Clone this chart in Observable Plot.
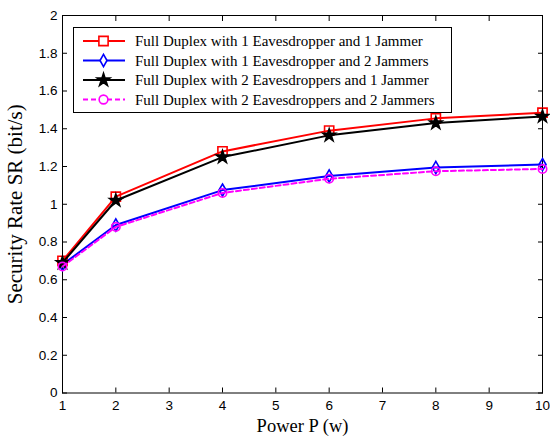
<!DOCTYPE html>
<html><head><meta charset="utf-8">
<script src="https://cdn.jsdelivr.net/npm/d3@7"></script>
<script src="https://cdn.jsdelivr.net/npm/@observablehq/plot@0.6"></script>
<style>
body{margin:0;background:#fff}
#wrap{position:relative;width:550px;height:436px}
#wrap svg.plot{font-family:"Liberation Sans",Arial,sans-serif;font-size:13.5px}
g[aria-label="x-axis label"] text{font-family:"Liberation Serif","Times New Roman",serif;font-size:18.5px}
g[aria-label="y-axis label"] text{font-family:"Liberation Serif","Times New Roman",serif;font-size:21px}
#legend{position:absolute;left:73px;top:27px}
</style></head><body><div id="wrap"></div>
<script>
const power = [1, 2, 4, 6, 8, 10];
const seriesNames = [
  "Full Duplex with 1 Eavesdropper and 1 Jammer",
  "Full Duplex with 1 Eavesdropper and 2 Jammers",
  "Full Duplex with 2 Eavesdroppers and 1 Jammer",
  "Full Duplex with 2 Eavesdroppers and 2 Jammers"
];
const sr1E1J = [0.70, 1.04, 1.28, 1.39, 1.455, 1.485];
const sr1E2J = [0.68, 0.89, 1.075, 1.15, 1.195, 1.21];
const sr2E1J = [0.69, 1.02, 1.25, 1.365, 1.43, 1.465];
const sr2E2J = [0.67, 0.88, 1.06, 1.135, 1.175, 1.187];
const xTicks = [1, 2, 3, 4, 5, 6, 7, 8, 9, 10];
const yTicks = [0, 0.2, 0.4, 0.6, 0.8, 1, 1.2, 1.4, 1.6, 1.8, 2];

const colors = ["#ff0000", "#0000ff", "#000000", "#ff00ff"];
const symbols = ["square", "diamond", "star", "circle"];
const fills = ["none", "none", "#000000", "none"];
const radii = [5.2, 3.7, 3.9, 4.2];
const dashes = [null, null, null, "5,3"];
const allValues = [sr1E1J, sr1E2J, sr2E1J, sr2E2J];

const data = [];
allValues.forEach((vals, i) => vals.forEach((v, j) => data.push({s: i, x: power[j], y: v})));

const marks = [];
allValues.forEach((vals, i) => {
  const d = data.filter(o => o.s === i);
  marks.push(Plot.line(d, {x: "x", y: "y", stroke: colors[i], strokeWidth: 2, strokeDasharray: dashes[i]}));
  marks.push(Plot.dot(d, {x: "x", y: "y", symbol: () => symbols[i], r: radii[i], stroke: colors[i], fill: fills[i], strokeWidth: 1.6}));
});

const chart = Plot.plot({
  width: 550, height: 436,
  marginLeft: 62, marginRight: 8, marginTop: 15, marginBottom: 43.5,
  x: {domain: [1, 10]},
  y: {domain: [0, 2]},
  marks: [
    Plot.frame({stroke: "#000", strokeWidth: 1}),
    Plot.axisX({ticks: xTicks, tickSize: -5, tickPadding: 12, tickFormat: d => String(d), label: "Power P (w)", labelAnchor: "center", labelOffset: 39, labelArrow: "none", fill: "#000"}),
    Plot.axisX({anchor: "top", ticks: xTicks, tickSize: -5, tickFormat: () => "", label: null}),
    Plot.axisY({ticks: yTicks, tickSize: -5, tickPadding: 10, tickFormat: d => String(d), label: "Security Rate SR (bit/s)", labelAnchor: "center", labelOffset: 55, labelArrow: "none", fill: "#000"}),
    Plot.axisY({anchor: "right", ticks: yTicks, tickSize: -5, tickFormat: () => "", label: null}),
    ...marks
  ]
});
chart.classList.add("plot");
document.getElementById("wrap").appendChild(chart);

// legend overlay
const lw = 379, lh = 86;
const leg = d3.select("#wrap").append("svg").attr("id", "legend").attr("width", lw).attr("height", lh);
leg.append("rect").attr("x", 0.5).attr("y", 0.5).attr("width", lw - 1).attr("height", lh - 1).attr("fill", "#fff").attr("stroke", "#000");
const symGen = {square: d3.symbolSquare, diamond: d3.symbolDiamond, star: d3.symbolStar, circle: d3.symbolCircle};
const legSizes = [85, 42, 50, 60];
seriesNames.forEach((name, i) => {
  const yy = 14 + i * 19.5;
  const g = leg.append("g");
  g.append("line").attr("x1", 10).attr("x2", 52).attr("y1", yy).attr("y2", yy).attr("stroke", colors[i]).attr("stroke-width", 2).attr("stroke-dasharray", dashes[i]);
  g.append("path").attr("d", d3.symbol(symGen[symbols[i]], legSizes[i])()).attr("transform", `translate(30.5,${yy})`).attr("stroke", colors[i]).attr("fill", i === 2 ? "#000" : "#fff").attr("stroke-width", 1.6);
  g.append("text").attr("x", 62).attr("y", yy).attr("dy", "0.35em").attr("font-family", "'Liberation Serif','Times New Roman',serif").attr("font-size", 15).attr("fill", "#000").text(name);
});
</script></body></html>
